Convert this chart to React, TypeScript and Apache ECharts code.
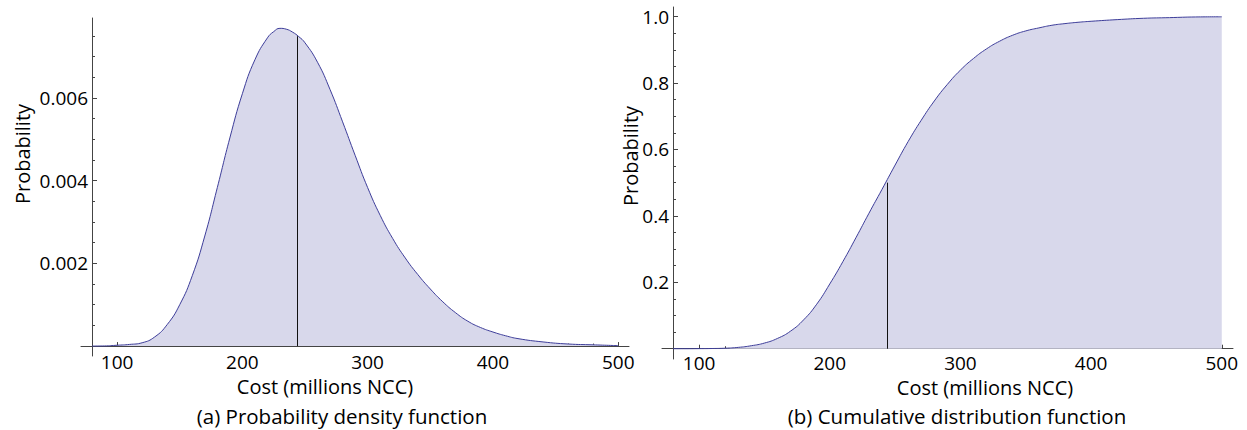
import React, { useEffect, useRef } from "react";
import * as echarts from "echarts";

// ---- data ----
const PDF_X = [80, 90, 100, 110, 120, 130, 140, 150, 160, 170, 180, 190, 200, 210, 220, 225, 230, 235, 240, 245, 250, 260, 270, 280, 290, 300, 310, 320, 330, 340, 350, 360, 370, 380, 390, 400, 410, 420, 440, 460, 480, 500];
const PDF_Y = [0, 0.000003, 0.00002, 0.00004, 0.00008, 0.00022, 0.00052, 0.001, 0.0017, 0.00266, 0.00383, 0.00503, 0.0061, 0.00692, 0.00745, 0.0076, 0.00768, 0.00766, 0.00759, 0.00748, 0.00733, 0.00686, 0.0062, 0.00542, 0.00461, 0.00383, 0.00316, 0.0026, 0.00213, 0.00173, 0.00138, 0.00107, 0.00081, 0.0006, 0.00045, 0.00034, 0.00025, 0.00018, 0.0001, 0.00005, 0.00003, 0.00001];

const CDF_X = [80, 90, 100, 110, 120, 130, 140, 150, 160, 170, 180, 190, 200, 210, 220, 230, 240, 250, 260, 270, 280, 290, 300, 310, 320, 330, 340, 350, 360, 370, 380, 390, 400, 420, 440, 460, 480, 500];
const CDF_Y = [0, 0, 0.0002, 0.0006, 0.0015, 0.004, 0.009, 0.017, 0.031, 0.053, 0.087, 0.134, 0.195, 0.262, 0.334, 0.408, 0.48, 0.553, 0.624, 0.688, 0.746, 0.796, 0.839, 0.874, 0.903, 0.926, 0.944, 0.957, 0.966, 0.974, 0.979, 0.983, 0.986, 0.991, 0.995, 0.997, 0.999, 0.9995];

const MEDIAN = 244;
const PDF_AT_MEDIAN = 0.00749;
const CDF_AT_MEDIAN = 0.5;

const X_MAJOR = [100, 200, 300, 400, 500];
const X_MINOR = [100, 120, 140, 160, 180, 200, 220, 240, 260, 280, 300, 320, 340, 360, 380, 400, 420, 440, 460, 480, 500];
const PDF_Y_MAJOR = [0.002, 0.004, 0.006];
const PDF_Y_MINOR = [0.0005, 0.001, 0.0015, 0.002, 0.0025, 0.003, 0.0035, 0.004, 0.0045, 0.005, 0.0055, 0.006, 0.0065, 0.007, 0.0075];
const CDF_Y_MAJOR = [0.2, 0.4, 0.6, 0.8, 1.0];
const CDF_Y_MINOR = [0.05, 0.1, 0.15, 0.2, 0.25, 0.3, 0.35, 0.4, 0.45, 0.5, 0.55, 0.6, 0.65, 0.7, 0.75, 0.8, 0.85, 0.9, 0.95, 1.0];

const X_LABEL = "Cost (millions NCC)";
const Y_LABEL = "Probability";
const CAPTION_A = "(a) Probability density function";
const CAPTION_B = "(b) Cumulative distribution function";

const FONT = "'Open Sans', 'Noto Sans', sans-serif";
const LINE_COLOR = "#3d3d99";
const FILL_COLOR = "#d8d8eb";
const AXIS_COLOR = "#444";

function xAxes(grid: number, min: number, max: number, yMajorIdx: number, labelMargin: number) {
  return [
    {
      type: "value", gridIndex: grid, min, max, position: "bottom",
      axisLine: { show: true, onZero: true, onZeroAxisIndex: yMajorIdx, lineStyle: { color: AXIS_COLOR, width: 1 } },
      axisTick: { show: true, inside: true, length: 4, customValues: X_MAJOR, lineStyle: { color: AXIS_COLOR } },
      axisLabel: { show: true, customValues: X_MAJOR, margin: labelMargin, fontSize: 19, lineHeight: 19, color: "#000", fontFamily: FONT },
      splitLine: { show: false },
    },
    {
      type: "value", gridIndex: grid, min, max, position: "bottom",
      axisLine: { show: false, onZero: true, onZeroAxisIndex: yMajorIdx + 1 },
      axisTick: { show: true, inside: true, length: 2.5, customValues: X_MINOR, lineStyle: { color: AXIS_COLOR } },
      axisLabel: { show: false },
      splitLine: { show: false },
    },
  ];
}

function yAxes(grid: number, min: number, max: number, major: number[], minor: number[], fmt: (v: number) => string) {
  return [
    {
      type: "value", gridIndex: grid, min, max, position: "left", offset: -11,
      axisLine: { show: true, onZero: false, lineStyle: { color: AXIS_COLOR, width: 1 } },
      axisTick: { show: true, inside: true, length: 5, customValues: major, lineStyle: { color: AXIS_COLOR } },
      axisLabel: { show: true, customValues: major, margin: 4, fontSize: 19, color: "#000", fontFamily: FONT, formatter: fmt },
      splitLine: { show: false },
    },
    {
      type: "value", gridIndex: grid, min, max, position: "left", offset: -11,
      axisLine: { show: false, onZero: false },
      axisTick: { show: true, inside: true, length: 3, customValues: minor, lineStyle: { color: AXIS_COLOR } },
      axisLabel: { show: false },
      splitLine: { show: false },
    },
  ];
}

function medianLine(y: number) {
  return {
    silent: true,
    symbol: ["none", "none"],
    label: { show: false },
    lineStyle: { color: "#111", width: 1, type: "solid" },
    emphasis: { disabled: true },
    data: [[{ coord: [MEDIAN, 0] }, { coord: [MEDIAN, y] }]],
  };
}

function text(t: string, x: number, y: number, size: number, rotation = 0) {
  return {
    type: "text", x, y, rotation,
    style: { text: t, fill: "#000", font: `${size}px ${FONT}`, align: "center", verticalAlign: "middle" },
  };
}

export default function App() {
  const ref = useRef<HTMLDivElement>(null);
  useEffect(() => {
    document.body.style.margin = "0";
    const chart = echarts.init(ref.current!, null, { renderer: "svg" });
    chart.setOption({
      animation: false,
      grid: [
        { left: 81, top: 18, width: 548, height: 338 },
        { left: 662, top: 7, width: 571, height: 352 },
      ],
      xAxis: [...xAxes(0, 71.2, 508.6, 0, -4), ...xAxes(1, 71.6, 508.6, 2, -6)],
      yAxis: [
        ...yAxes(0, -0.00024, 0.00793, PDF_Y_MAJOR, PDF_Y_MINOR, (v: number) => v.toFixed(3)),
        ...yAxes(1, -0.031, 1.029, CDF_Y_MAJOR, CDF_Y_MINOR, (v: number) => v.toFixed(1)),
      ],
      series: [
        {
          type: "line", xAxisIndex: 0, yAxisIndex: 0,
          data: PDF_X.map((x, i) => [x, PDF_Y[i]]),
          showSymbol: false, smooth: true, silent: true,
          lineStyle: { color: LINE_COLOR, width: 1 },
          areaStyle: { color: FILL_COLOR, opacity: 1 },
          markLine: medianLine(PDF_AT_MEDIAN),
        },
        {
          type: "line", xAxisIndex: 2, yAxisIndex: 2,
          data: CDF_X.map((x, i) => [x, CDF_Y[i]]),
          showSymbol: false, smooth: true, silent: true,
          lineStyle: { color: LINE_COLOR, width: 1 },
          areaStyle: { color: FILL_COLOR, opacity: 1 },
          markLine: medianLine(CDF_AT_MEDIAN),
        },
      ],
      graphic: [
        text(Y_LABEL, 22, 154, 20, Math.PI / 2),
        text(Y_LABEL, 630, 156, 20, Math.PI / 2),
        text(X_LABEL, 325, 386, 20),
        text(X_LABEL, 985, 387, 20),
        text(CAPTION_A, 342, 416, 20.5),
        text(CAPTION_B, 957, 416, 20.5),
      ],
    });
    return () => chart.dispose();
  }, []);
  return <div ref={ref} style={{ position: "absolute", left: 0, top: 0, width: 1247, height: 430 }} />;
}
